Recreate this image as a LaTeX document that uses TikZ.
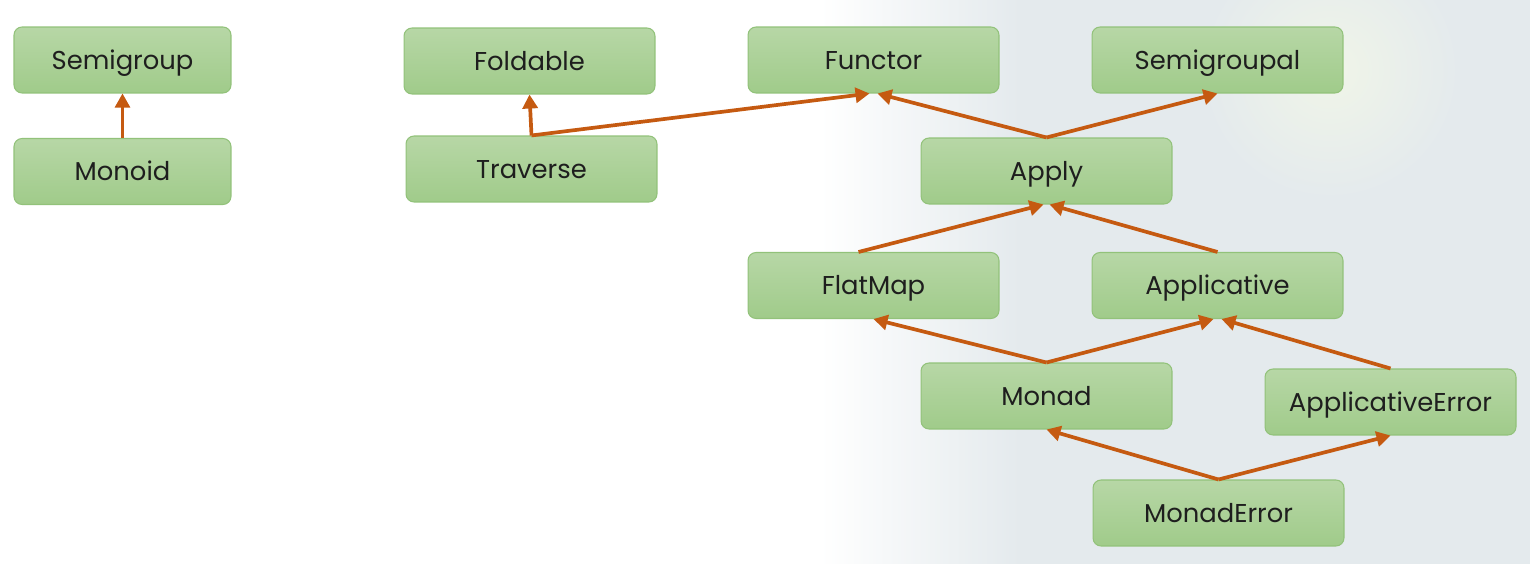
\documentclass[tikz,border=0pt]{standalone}
\usepackage{fontspec}
\setmainfont{Poppins}
\usepackage{tikz}
\usetikzlibrary{arrows.meta}

\definecolor{boxtop}{RGB}{183,215,166}
\definecolor{boxbottom}{RGB}{160,203,138}
\definecolor{boxline}{RGB}{146,194,122}
\definecolor{arrowcol}{RGB}{197,90,17}
\definecolor{bgtint}{RGB}{228,234,237}
\definecolor{bgglow}{RGB}{240,245,232}
\definecolor{textcol}{RGB}{30,30,30}

\begin{document}
\begin{tikzpicture}[x=0.02cm, y=-0.02cm,
	every node/.style = {shape=rectangle, rounded corners=0.16cm,
		draw=boxline, line width=0.6pt, align=center, text=textcol,
		top color=boxtop, bottom color=boxbottom,
		minimum width=5.02cm, minimum height=1.32cm,
		text height=10.3pt, text depth=0pt,
		font=\fontsize{14.7}{17}\selectfont},
	small/.style = {minimum width=4.34cm},
	link/.style = {draw=arrowcol, line width=2.1pt,
		-{Triangle[length=0.28cm, width=0.3cm]}},
	thinlink/.style = {link, line width=1.5pt}]
	% background
	\useasboundingbox (0,0) rectangle (1530,564);
	\fill[white] (0,0) rectangle (1530,564);
	\shade[left color=white, right color=bgtint] (820,0) rectangle (1020,564);
	\fill[bgtint] (1020,0) rectangle (1530,564);
	\shade[inner color=bgglow, outer color=bgtint] (1330,70) circle (130);

	% left pair
	\node[small] (semigroup) at (122.5,60) {Semigroup};
	\node[small] (monoid) at (122.5,171.5) {Monoid};
	% traverse pair
	\node (foldable) at (529.5,61) {Foldable};
	\node (traverse) at (531.5,169) {Traverse};
	% top row
	\node (functor) at (873.5,60) {Functor};
	\node (semigroupal) at (1217.5,60) {Semigroupal};
	% middle
	\node (apply) at (1046.5,171) {Apply};
	\node (flatmap) at (873.5,285.5) {FlatMap};
	\node (applicative) at (1217.5,285.5) {Applicative};
	% bottom
	\node (monad) at (1046.5,396) {Monad};
	\node (applicativeerror) at (1390.5,402) {ApplicativeError};
	\node (monaderror) at (1218.5,513) {MonadError};

	% links
	\draw[thinlink] (monoid.north) -- (semigroup.south);
	\draw[link] (traverse.north) -- (foldable.south);
	\draw[link] (traverse.north) -- ([xshift=-0.08cm]functor.south);
	\draw[link] (apply.north) -- ([xshift=0.08cm]functor.south);
	\draw[link] (apply.north) -- (semigroupal.south);
	\draw[link] ([xshift=-0.3cm]flatmap.north) -- ([xshift=-0.06cm]apply.south);
	\draw[link] (applicative.north) -- ([xshift=0.06cm]apply.south);
	\draw[link] (monad.north) -- (flatmap.south);
	\draw[link] (monad.north) -- ([xshift=-0.08cm]applicative.south);
	\draw[link] (applicativeerror.north) -- ([xshift=0.08cm]applicative.south);
	\draw[link] (monaderror.north) -- (monad.south);
	\draw[link] (monaderror.north) -- (applicativeerror.south);
\end{tikzpicture}
\end{document}
